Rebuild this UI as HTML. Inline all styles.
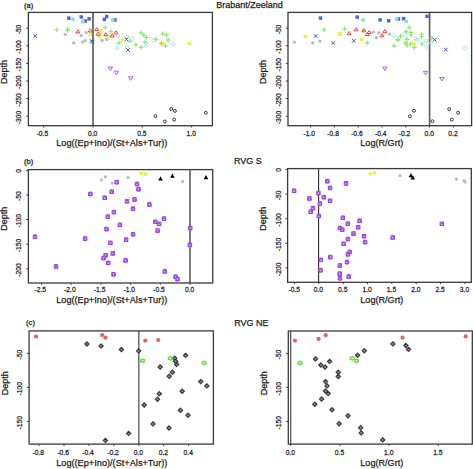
<!DOCTYPE html><html><head><meta charset="utf-8"><style>html,body{margin:0;padding:0;background:#fff;}svg{display:block;}</style></head><body>
<svg width="473" height="469" viewBox="0 0 473 469" font-family='"Liberation Sans", sans-serif'><style>text{stroke:#222;stroke-width:0.25px;}</style>
<rect width="473" height="469" fill="#fff"/>
<text x="28.60" y="7.90" font-size="7.6" text-anchor="middle" fill="#1a1a1a">(a)</text>
<text x="249.40" y="7.80" font-size="9" text-anchor="middle" fill="#1a1a1a">Brabant/Zeeland</text>
<text transform="translate(7.10,72.00) rotate(-90)" x="0" y="0" font-size="9" text-anchor="middle" fill="#1a1a1a">Depth</text>
<text x="111.80" y="145.90" font-size="9.2" text-anchor="middle" fill="#1a1a1a">Log((Ep+Ino)/(St+Als+Tur))</text>
<line x1="93.00" y1="12.40" x2="93.00" y2="125.70" stroke="#5e5e5e" stroke-width="1.7"/>
<rect x="67.05" y="16.45" width="3.5" height="3.5" fill="#5264d6"/>
<rect x="79.55" y="15.25" width="3.5" height="3.5" fill="#5264d6"/>
<rect x="83.45" y="19.25" width="3.5" height="3.5" fill="#5264d6"/>
<rect x="87.35" y="17.15" width="3.5" height="3.5" fill="#5264d6"/>
<rect x="102.65" y="17.65" width="3.5" height="3.5" fill="#5264d6"/>
<rect x="104.95" y="14.75" width="3.5" height="3.5" fill="#5264d6"/>
<rect x="113.25" y="18.15" width="3.5" height="3.5" fill="#5264d6"/>
<rect x="71.25" y="17.35" width="3.5" height="3.5" fill="#84e0d8"/>
<rect x="81.05" y="19.95" width="3.5" height="3.5" fill="#84e0d8"/>
<rect x="111.05" y="18.15" width="3.5" height="3.5" fill="#84e0d8"/>
<circle cx="65.20" cy="34.40" r="1.7" fill="#b4bcbc"/>
<circle cx="81.30" cy="35.40" r="1.7" fill="#b4bcbc"/>
<circle cx="86.10" cy="32.60" r="1.7" fill="#b4bcbc"/>
<circle cx="73.70" cy="43.00" r="1.7" fill="#b4bcbc"/>
<circle cx="82.50" cy="42.10" r="1.7" fill="#b4bcbc"/>
<circle cx="85.30" cy="40.80" r="1.7" fill="#b4bcbc"/>
<circle cx="102.00" cy="40.40" r="1.7" fill="#b4bcbc"/>
<circle cx="106.80" cy="39.20" r="1.7" fill="#b4bcbc"/>
<rect x="88.55" y="32.65" width="3.5" height="3.5" fill="#eeee50"/>
<rect x="99.35" y="29.55" width="3.5" height="3.5" fill="#eeee50"/>
<rect x="97.45" y="34.85" width="3.5" height="3.5" fill="#eeee50"/>
<rect x="106.95" y="35.15" width="3.5" height="3.5" fill="#eeee50"/>
<rect x="120.65" y="38.45" width="3.5" height="3.5" fill="#eeee50"/>
<rect x="159.85" y="41.85" width="3.5" height="3.5" fill="#eeee50"/>
<rect x="187.75" y="41.85" width="3.5" height="3.5" fill="#eeee50"/>
<path d="M54.60 29.70H59.20M56.90 27.40V32.00" stroke="#8ae86c" stroke-width="1.15" fill="none"/>
<path d="M65.30 29.00H69.90M67.60 26.70V31.30" stroke="#8ae86c" stroke-width="1.15" fill="none"/>
<path d="M65.30 30.60H69.90M67.60 28.30V32.90" stroke="#8ae86c" stroke-width="1.15" fill="none"/>
<path d="M103.00 27.50H107.60M105.30 25.20V29.80" stroke="#8ae86c" stroke-width="1.15" fill="none"/>
<path d="M108.60 31.50H113.20M110.90 29.20V33.80" stroke="#8ae86c" stroke-width="1.15" fill="none"/>
<path d="M116.60 42.80H121.20M118.90 40.50V45.10" stroke="#8ae86c" stroke-width="1.15" fill="none"/>
<path d="M127.50 41.10H132.10M129.80 38.80V43.40" stroke="#8ae86c" stroke-width="1.15" fill="none"/>
<path d="M133.60 44.90H138.20M135.90 42.60V47.20" stroke="#8ae86c" stroke-width="1.15" fill="none"/>
<path d="M138.70 47.30H143.30M141.00 45.00V49.60" stroke="#8ae86c" stroke-width="1.15" fill="none"/>
<path d="M138.60 32.70H143.20M140.90 30.40V35.00" stroke="#8ae86c" stroke-width="1.15" fill="none"/>
<path d="M141.50 35.10H146.10M143.80 32.80V37.40" stroke="#8ae86c" stroke-width="1.15" fill="none"/>
<path d="M144.30 37.50H148.90M146.60 35.20V39.80" stroke="#8ae86c" stroke-width="1.15" fill="none"/>
<path d="M142.60 41.80H147.20M144.90 39.50V44.10" stroke="#8ae86c" stroke-width="1.15" fill="none"/>
<path d="M153.60 39.40H158.20M155.90 37.10V41.70" stroke="#8ae86c" stroke-width="1.15" fill="none"/>
<path d="M160.50 33.80H165.10M162.80 31.50V36.10" stroke="#8ae86c" stroke-width="1.15" fill="none"/>
<path d="M164.30 35.10H168.90M166.60 32.80V37.40" stroke="#8ae86c" stroke-width="1.15" fill="none"/>
<path d="M165.90 40.10H170.50M168.20 37.80V42.40" stroke="#8ae86c" stroke-width="1.15" fill="none"/>
<path d="M159.30 43.60H163.90M161.60 41.30V45.90" stroke="#8ae86c" stroke-width="1.15" fill="none"/>
<path d="M163.10 45.80H167.70M165.40 43.50V48.10" stroke="#8ae86c" stroke-width="1.15" fill="none"/>
<path d="M77.90 29.80L79.90 32.95L75.90 32.95Z" stroke="#e04848" stroke-width="1.0" fill="none"/>
<path d="M90.30 28.80L92.30 31.95L88.30 31.95Z" stroke="#e04848" stroke-width="1.0" fill="none"/>
<path d="M96.70 27.50L98.70 30.65L94.70 30.65Z" stroke="#e04848" stroke-width="1.0" fill="none"/>
<path d="M98.30 32.00L100.30 35.15L96.30 35.15Z" stroke="#e04848" stroke-width="1.0" fill="none"/>
<path d="M105.80 32.60L107.80 35.75L103.80 35.75Z" stroke="#e04848" stroke-width="1.0" fill="none"/>
<path d="M112.30 33.90L114.30 37.05L110.30 37.05Z" stroke="#e04848" stroke-width="1.0" fill="none"/>
<path d="M116.00 30.80L118.00 33.95L114.00 33.95Z" stroke="#e04848" stroke-width="1.0" fill="none"/>
<path d="M118.00 33.90L120.10 36.00L118.00 38.10L115.90 36.00Z" stroke="#90e4dc" stroke-width="0.9" fill="none"/>
<path d="M127.00 34.60L129.10 36.70L127.00 38.80L124.90 36.70Z" stroke="#90e4dc" stroke-width="0.9" fill="none"/>
<path d="M132.20 36.40L134.30 38.50L132.20 40.60L130.10 38.50Z" stroke="#90e4dc" stroke-width="0.9" fill="none"/>
<path d="M117.20 45.80L119.30 47.90L117.20 50.00L115.10 47.90Z" stroke="#90e4dc" stroke-width="0.9" fill="none"/>
<path d="M127.00 44.50L129.10 46.60L127.00 48.70L124.90 46.60Z" stroke="#90e4dc" stroke-width="0.9" fill="none"/>
<path d="M146.00 41.10L148.10 43.20L146.00 45.30L143.90 43.20Z" stroke="#90e4dc" stroke-width="0.9" fill="none"/>
<path d="M146.00 43.70L148.10 45.80L146.00 47.90L143.90 45.80Z" stroke="#90e4dc" stroke-width="0.9" fill="none"/>
<path d="M153.30 38.00L155.40 40.10L153.30 42.20L151.20 40.10Z" stroke="#90e4dc" stroke-width="0.9" fill="none"/>
<path d="M172.70 42.20L174.80 44.30L172.70 46.40L170.60 44.30Z" stroke="#90e4dc" stroke-width="0.9" fill="none"/>
<path d="M33.40 34.10L37.00 37.70M33.40 37.70L37.00 34.10" stroke="#4452cc" stroke-width="1.0" fill="none"/>
<path d="M89.80 39.10L93.40 42.70M89.80 42.70L93.40 39.10" stroke="#4452cc" stroke-width="1.0" fill="none"/>
<path d="M90.60 40.10L94.20 43.70M90.60 43.70L94.20 40.10" stroke="#4452cc" stroke-width="1.0" fill="none"/>
<path d="M124.70 37.60L128.30 41.20M124.70 41.20L128.30 37.60" stroke="#4452cc" stroke-width="1.0" fill="none"/>
<path d="M126.10 48.30L129.70 51.90M126.10 51.90L129.70 48.30" stroke="#4452cc" stroke-width="1.0" fill="none"/>
<path d="M110.40 70.48L112.60 67.02L108.20 67.02Z" stroke="#b458e8" stroke-width="1.0" fill="none"/>
<path d="M116.30 74.68L118.50 71.22L114.10 71.22Z" stroke="#b458e8" stroke-width="1.0" fill="none"/>
<path d="M130.70 80.28L132.90 76.81L128.50 76.81Z" stroke="#b458e8" stroke-width="1.0" fill="none"/>
<circle cx="155.50" cy="116.20" r="1.45" stroke="#333" stroke-width="1.0" fill="none"/>
<circle cx="164.90" cy="121.50" r="1.45" stroke="#333" stroke-width="1.0" fill="none"/>
<circle cx="171.20" cy="109.00" r="1.45" stroke="#333" stroke-width="1.0" fill="none"/>
<circle cx="174.90" cy="110.90" r="1.45" stroke="#333" stroke-width="1.0" fill="none"/>
<circle cx="174.10" cy="119.60" r="1.45" stroke="#333" stroke-width="1.0" fill="none"/>
<circle cx="205.80" cy="112.80" r="1.45" stroke="#333" stroke-width="1.0" fill="none"/>
<rect x="28.40" y="12.40" width="184.00" height="113.30" fill="none" stroke="#3a3a3a" stroke-width="1.3"/>
<line x1="43.70" y1="125.70" x2="43.70" y2="127.50" stroke="#3a3a3a" stroke-width="1"/>
<text transform="translate(42.40,135.50) scale(0.87,1)" font-size="7.7" text-anchor="middle" fill="#1a1a1a">-0.5</text>
<line x1="93.00" y1="125.70" x2="93.00" y2="127.50" stroke="#3a3a3a" stroke-width="1"/>
<text transform="translate(92.60,135.50) scale(0.87,1)" font-size="7.7" text-anchor="middle" fill="#1a1a1a">0.0</text>
<line x1="142.30" y1="125.70" x2="142.30" y2="127.50" stroke="#3a3a3a" stroke-width="1"/>
<text transform="translate(141.90,135.50) scale(0.87,1)" font-size="7.7" text-anchor="middle" fill="#1a1a1a">0.5</text>
<line x1="191.60" y1="125.70" x2="191.60" y2="127.50" stroke="#3a3a3a" stroke-width="1"/>
<text transform="translate(191.20,135.50) scale(0.87,1)" font-size="7.7" text-anchor="middle" fill="#1a1a1a">1.0</text>
<line x1="26.20" y1="28.20" x2="28.40" y2="28.20" stroke="#3a3a3a" stroke-width="1"/>
<text transform="translate(21.20,29.50) rotate(-90) scale(0.87,1)" font-size="7.7" text-anchor="middle" fill="#1a1a1a">-50</text>
<line x1="26.20" y1="45.80" x2="28.40" y2="45.80" stroke="#3a3a3a" stroke-width="1"/>
<text transform="translate(21.20,47.10) rotate(-90) scale(0.87,1)" font-size="7.7" text-anchor="middle" fill="#1a1a1a">-100</text>
<line x1="26.20" y1="63.40" x2="28.40" y2="63.40" stroke="#3a3a3a" stroke-width="1"/>
<text transform="translate(21.20,64.70) rotate(-90) scale(0.87,1)" font-size="7.7" text-anchor="middle" fill="#1a1a1a">-150</text>
<line x1="26.20" y1="81.00" x2="28.40" y2="81.00" stroke="#3a3a3a" stroke-width="1"/>
<text transform="translate(21.20,82.30) rotate(-90) scale(0.87,1)" font-size="7.7" text-anchor="middle" fill="#1a1a1a">-200</text>
<line x1="26.20" y1="98.60" x2="28.40" y2="98.60" stroke="#3a3a3a" stroke-width="1"/>
<text transform="translate(21.20,99.90) rotate(-90) scale(0.87,1)" font-size="7.7" text-anchor="middle" fill="#1a1a1a">-250</text>
<line x1="26.20" y1="116.20" x2="28.40" y2="116.20" stroke="#3a3a3a" stroke-width="1"/>
<text transform="translate(21.20,117.50) rotate(-90) scale(0.87,1)" font-size="7.7" text-anchor="middle" fill="#1a1a1a">-300</text>
<text transform="translate(266.40,72.00) rotate(-90)" x="0" y="0" font-size="9" text-anchor="middle" fill="#1a1a1a">Depth</text>
<text x="381.80" y="145.90" font-size="9.1" text-anchor="middle" fill="#1a1a1a">Log(R/Grt)</text>
<line x1="429.60" y1="12.40" x2="429.60" y2="125.70" stroke="#5e5e5e" stroke-width="1.7"/>
<rect x="318.75" y="16.35" width="3.5" height="3.5" fill="#5264d6"/>
<rect x="355.45" y="15.35" width="3.5" height="3.5" fill="#5264d6"/>
<rect x="378.35" y="18.15" width="3.5" height="3.5" fill="#5264d6"/>
<rect x="386.95" y="19.05" width="3.5" height="3.5" fill="#5264d6"/>
<rect x="396.75" y="17.35" width="3.5" height="3.5" fill="#5264d6"/>
<rect x="401.85" y="16.85" width="3.5" height="3.5" fill="#5264d6"/>
<rect x="425.35" y="14.55" width="3.5" height="3.5" fill="#5264d6"/>
<rect x="361.25" y="18.15" width="3.5" height="3.5" fill="#84e0d8"/>
<rect x="394.85" y="17.35" width="3.5" height="3.5" fill="#84e0d8"/>
<rect x="404.45" y="19.75" width="3.5" height="3.5" fill="#84e0d8"/>
<circle cx="294.50" cy="42.10" r="1.7" fill="#b4bcbc"/>
<circle cx="312.80" cy="42.80" r="1.7" fill="#b4bcbc"/>
<circle cx="319.90" cy="41.10" r="1.7" fill="#b4bcbc"/>
<circle cx="373.30" cy="32.10" r="1.7" fill="#b4bcbc"/>
<circle cx="376.40" cy="37.60" r="1.7" fill="#b4bcbc"/>
<circle cx="378.80" cy="32.80" r="1.7" fill="#b4bcbc"/>
<circle cx="389.60" cy="34.10" r="1.7" fill="#b4bcbc"/>
<rect x="303.55" y="34.65" width="3.5" height="3.5" fill="#eeee50"/>
<rect x="337.55" y="32.35" width="3.5" height="3.5" fill="#eeee50"/>
<rect x="338.65" y="32.05" width="3.5" height="3.5" fill="#eeee50"/>
<rect x="360.05" y="38.05" width="3.5" height="3.5" fill="#eeee50"/>
<rect x="362.05" y="28.75" width="3.5" height="3.5" fill="#eeee50"/>
<rect x="404.35" y="41.25" width="3.5" height="3.5" fill="#eeee50"/>
<rect x="412.15" y="41.85" width="3.5" height="3.5" fill="#eeee50"/>
<path d="M321.90 29.80H326.50M324.20 27.50V32.10" stroke="#8ae86c" stroke-width="1.15" fill="none"/>
<path d="M342.30 28.70H346.90M344.60 26.40V31.00" stroke="#8ae86c" stroke-width="1.15" fill="none"/>
<path d="M364.90 42.80H369.50M367.20 40.50V45.10" stroke="#8ae86c" stroke-width="1.15" fill="none"/>
<path d="M391.80 45.80H396.40M394.10 43.50V48.10" stroke="#8ae86c" stroke-width="1.15" fill="none"/>
<path d="M395.60 39.80H400.20M397.90 37.50V42.10" stroke="#8ae86c" stroke-width="1.15" fill="none"/>
<path d="M398.20 36.20H402.80M400.50 33.90V38.50" stroke="#8ae86c" stroke-width="1.15" fill="none"/>
<path d="M406.90 27.40H411.50M409.20 25.10V29.70" stroke="#8ae86c" stroke-width="1.15" fill="none"/>
<path d="M403.90 31.60H408.50M406.20 29.30V33.90" stroke="#8ae86c" stroke-width="1.15" fill="none"/>
<path d="M408.60 32.50H413.20M410.90 30.20V34.80" stroke="#8ae86c" stroke-width="1.15" fill="none"/>
<path d="M408.90 35.00H413.50M411.20 32.70V37.30" stroke="#8ae86c" stroke-width="1.15" fill="none"/>
<path d="M395.40 39.70H400.00M397.70 37.40V42.00" stroke="#8ae86c" stroke-width="1.15" fill="none"/>
<path d="M404.80 39.30H409.40M407.10 37.00V41.60" stroke="#8ae86c" stroke-width="1.15" fill="none"/>
<path d="M403.10 43.10H407.70M405.40 40.80V45.40" stroke="#8ae86c" stroke-width="1.15" fill="none"/>
<path d="M408.20 44.00H412.80M410.50 41.70V46.30" stroke="#8ae86c" stroke-width="1.15" fill="none"/>
<path d="M412.00 47.40H416.60M414.30 45.10V49.70" stroke="#8ae86c" stroke-width="1.15" fill="none"/>
<path d="M404.80 45.70H409.40M407.10 43.40V48.00" stroke="#8ae86c" stroke-width="1.15" fill="none"/>
<path d="M419.30 34.20H423.90M421.60 31.90V36.50" stroke="#8ae86c" stroke-width="1.15" fill="none"/>
<path d="M419.30 36.70H423.90M421.60 34.40V39.00" stroke="#8ae86c" stroke-width="1.15" fill="none"/>
<path d="M419.70 44.00H424.30M422.00 41.70V46.30" stroke="#8ae86c" stroke-width="1.15" fill="none"/>
<path d="M429.50 38.00H434.10M431.80 35.70V40.30" stroke="#8ae86c" stroke-width="1.15" fill="none"/>
<path d="M349.10 31.50L351.10 34.65L347.10 34.65Z" stroke="#e04848" stroke-width="1.0" fill="none"/>
<path d="M356.10 27.70L358.10 30.85L354.10 30.85Z" stroke="#e04848" stroke-width="1.0" fill="none"/>
<path d="M363.80 28.70L365.80 31.85L361.80 31.85Z" stroke="#e04848" stroke-width="1.0" fill="none"/>
<path d="M367.40 32.40L369.40 35.55L365.40 35.55Z" stroke="#e04848" stroke-width="1.0" fill="none"/>
<path d="M369.20 30.40L371.20 33.55L367.20 33.55Z" stroke="#e04848" stroke-width="1.0" fill="none"/>
<path d="M382.00 33.60L384.00 36.75L380.00 36.75Z" stroke="#e04848" stroke-width="1.0" fill="none"/>
<path d="M384.90 29.50L386.90 32.65L382.90 32.65Z" stroke="#e04848" stroke-width="1.0" fill="none"/>
<path d="M393.80 33.50L395.90 35.60L393.80 37.70L391.70 35.60Z" stroke="#90e4dc" stroke-width="0.9" fill="none"/>
<path d="M404.50 32.50L406.60 34.60L404.50 36.70L402.40 34.60Z" stroke="#90e4dc" stroke-width="0.9" fill="none"/>
<path d="M415.60 36.40L417.70 38.50L415.60 40.60L413.50 38.50Z" stroke="#90e4dc" stroke-width="0.9" fill="none"/>
<path d="M417.30 37.60L419.40 39.70L417.30 41.80L415.20 39.70Z" stroke="#90e4dc" stroke-width="0.9" fill="none"/>
<path d="M425.90 38.90L428.00 41.00L425.90 43.10L423.80 41.00Z" stroke="#90e4dc" stroke-width="0.9" fill="none"/>
<path d="M426.30 44.50L428.40 46.60L426.30 48.70L424.20 46.60Z" stroke="#90e4dc" stroke-width="0.9" fill="none"/>
<path d="M431.00 41.20L433.10 43.30L431.00 45.40L428.90 43.30Z" stroke="#90e4dc" stroke-width="0.9" fill="none"/>
<path d="M465.10 46.20L467.20 48.30L465.10 50.40L463.00 48.30Z" stroke="#90e4dc" stroke-width="0.9" fill="none"/>
<path d="M313.80 34.20L317.40 37.80M313.80 37.80L317.40 34.20" stroke="#4452cc" stroke-width="1.0" fill="none"/>
<path d="M331.50 41.10L335.10 44.70M331.50 44.70L335.10 41.10" stroke="#4452cc" stroke-width="1.0" fill="none"/>
<path d="M352.00 39.00L355.60 42.60M352.00 42.60L355.60 39.00" stroke="#4452cc" stroke-width="1.0" fill="none"/>
<path d="M432.90 37.90L436.50 41.50M432.90 41.50L436.50 37.90" stroke="#4452cc" stroke-width="1.0" fill="none"/>
<path d="M444.00 47.80L447.60 51.40M444.00 51.40L447.60 47.80" stroke="#4452cc" stroke-width="1.0" fill="none"/>
<path d="M384.90 70.48L387.10 67.02L382.70 67.02Z" stroke="#b458e8" stroke-width="1.0" fill="none"/>
<path d="M425.60 74.78L427.80 71.31L423.40 71.31Z" stroke="#b458e8" stroke-width="1.0" fill="none"/>
<path d="M441.90 80.88L444.10 77.42L439.70 77.42Z" stroke="#b458e8" stroke-width="1.0" fill="none"/>
<circle cx="409.90" cy="116.30" r="1.45" stroke="#333" stroke-width="1.0" fill="none"/>
<circle cx="414.00" cy="110.80" r="1.45" stroke="#333" stroke-width="1.0" fill="none"/>
<circle cx="432.50" cy="121.20" r="1.45" stroke="#333" stroke-width="1.0" fill="none"/>
<circle cx="449.20" cy="109.20" r="1.45" stroke="#333" stroke-width="1.0" fill="none"/>
<circle cx="451.80" cy="119.60" r="1.45" stroke="#333" stroke-width="1.0" fill="none"/>
<circle cx="458.10" cy="112.70" r="1.45" stroke="#333" stroke-width="1.0" fill="none"/>
<rect x="288.00" y="12.40" width="183.60" height="113.30" fill="none" stroke="#3a3a3a" stroke-width="1.3"/>
<line x1="310.60" y1="125.70" x2="310.60" y2="127.50" stroke="#3a3a3a" stroke-width="1"/>
<text transform="translate(309.30,135.50) scale(0.87,1)" font-size="7.7" text-anchor="middle" fill="#1a1a1a">-1.0</text>
<line x1="334.40" y1="125.70" x2="334.40" y2="127.50" stroke="#3a3a3a" stroke-width="1"/>
<text transform="translate(333.10,135.50) scale(0.87,1)" font-size="7.7" text-anchor="middle" fill="#1a1a1a">-0.8</text>
<line x1="358.20" y1="125.70" x2="358.20" y2="127.50" stroke="#3a3a3a" stroke-width="1"/>
<text transform="translate(356.90,135.50) scale(0.87,1)" font-size="7.7" text-anchor="middle" fill="#1a1a1a">-0.6</text>
<line x1="382.00" y1="125.70" x2="382.00" y2="127.50" stroke="#3a3a3a" stroke-width="1"/>
<text transform="translate(380.70,135.50) scale(0.87,1)" font-size="7.7" text-anchor="middle" fill="#1a1a1a">-0.4</text>
<line x1="405.80" y1="125.70" x2="405.80" y2="127.50" stroke="#3a3a3a" stroke-width="1"/>
<text transform="translate(404.50,135.50) scale(0.87,1)" font-size="7.7" text-anchor="middle" fill="#1a1a1a">-0.2</text>
<line x1="429.60" y1="125.70" x2="429.60" y2="127.50" stroke="#3a3a3a" stroke-width="1"/>
<text transform="translate(429.20,135.50) scale(0.87,1)" font-size="7.7" text-anchor="middle" fill="#1a1a1a">0.0</text>
<line x1="453.40" y1="125.70" x2="453.40" y2="127.50" stroke="#3a3a3a" stroke-width="1"/>
<text transform="translate(453.00,135.50) scale(0.87,1)" font-size="7.7" text-anchor="middle" fill="#1a1a1a">0.2</text>
<line x1="285.80" y1="28.20" x2="288.00" y2="28.20" stroke="#3a3a3a" stroke-width="1"/>
<text transform="translate(280.80,29.50) rotate(-90) scale(0.87,1)" font-size="7.7" text-anchor="middle" fill="#1a1a1a">-50</text>
<line x1="285.80" y1="45.80" x2="288.00" y2="45.80" stroke="#3a3a3a" stroke-width="1"/>
<text transform="translate(280.80,47.10) rotate(-90) scale(0.87,1)" font-size="7.7" text-anchor="middle" fill="#1a1a1a">-100</text>
<line x1="285.80" y1="63.40" x2="288.00" y2="63.40" stroke="#3a3a3a" stroke-width="1"/>
<text transform="translate(280.80,64.70) rotate(-90) scale(0.87,1)" font-size="7.7" text-anchor="middle" fill="#1a1a1a">-150</text>
<line x1="285.80" y1="81.00" x2="288.00" y2="81.00" stroke="#3a3a3a" stroke-width="1"/>
<text transform="translate(280.80,82.30) rotate(-90) scale(0.87,1)" font-size="7.7" text-anchor="middle" fill="#1a1a1a">-200</text>
<line x1="285.80" y1="98.60" x2="288.00" y2="98.60" stroke="#3a3a3a" stroke-width="1"/>
<text transform="translate(280.80,99.90) rotate(-90) scale(0.87,1)" font-size="7.7" text-anchor="middle" fill="#1a1a1a">-250</text>
<line x1="285.80" y1="116.20" x2="288.00" y2="116.20" stroke="#3a3a3a" stroke-width="1"/>
<text transform="translate(280.80,117.50) rotate(-90) scale(0.87,1)" font-size="7.7" text-anchor="middle" fill="#1a1a1a">-300</text>
<text x="28.70" y="163.70" font-size="7.6" text-anchor="middle" fill="#1a1a1a">(b)</text>
<text x="247.80" y="164.40" font-size="9" text-anchor="middle" fill="#1a1a1a">RVG S</text>
<text transform="translate(7.10,218.70) rotate(-90)" x="0" y="0" font-size="9" text-anchor="middle" fill="#1a1a1a">Depth</text>
<text x="111.80" y="302.80" font-size="9.2" text-anchor="middle" fill="#1a1a1a">Log((Ep+Ino)/(St+Als+Tur))</text>
<line x1="190.00" y1="169.60" x2="190.00" y2="283.00" stroke="#5e5e5e" stroke-width="1.6"/>
<circle cx="101.30" cy="179.80" r="1.6" fill="#b4bcbc"/>
<circle cx="105.40" cy="176.80" r="1.6" fill="#b4bcbc"/>
<circle cx="112.30" cy="183.10" r="1.6" fill="#b4bcbc"/>
<circle cx="128.10" cy="177.70" r="1.6" fill="#b4bcbc"/>
<circle cx="182.70" cy="181.70" r="1.6" fill="#b4bcbc"/>
<rect x="139.65" y="171.85" width="3.5" height="3.5" fill="#eeee50"/>
<rect x="144.05" y="172.35" width="3.5" height="3.5" fill="#eeee50"/>
<path d="M160.50 176.30L162.80 180.44L158.20 180.44Z" fill="#000"/>
<path d="M172.40 173.60L174.70 177.74L170.10 177.74Z" fill="#000"/>
<path d="M206.00 175.10L208.30 179.24L203.70 179.24Z" fill="#000"/>
<path d="M88.65 192.15h3.5v3.5h-3.5ZM90.40 192.15L92.15 195.65L88.65 195.65Z" stroke="#9a40e0" stroke-width="1.0" fill="#e6ccf8" stroke-linejoin="miter"/>
<path d="M102.95 195.95h3.5v3.5h-3.5ZM104.70 195.95L106.45 199.45L102.95 199.45Z" stroke="#9a40e0" stroke-width="1.0" fill="#e6ccf8" stroke-linejoin="miter"/>
<path d="M109.95 189.85h3.5v3.5h-3.5ZM111.70 189.85L113.45 193.35L109.95 193.35Z" stroke="#9a40e0" stroke-width="1.0" fill="#e6ccf8" stroke-linejoin="miter"/>
<path d="M112.15 210.25h3.5v3.5h-3.5ZM113.90 210.25L115.65 213.75L112.15 213.75Z" stroke="#9a40e0" stroke-width="1.0" fill="#e6ccf8" stroke-linejoin="miter"/>
<path d="M106.05 214.85h3.5v3.5h-3.5ZM107.80 214.85L109.55 218.35L106.05 218.35Z" stroke="#9a40e0" stroke-width="1.0" fill="#e6ccf8" stroke-linejoin="miter"/>
<path d="M114.95 180.35h3.5v3.5h-3.5ZM116.70 180.35L118.45 183.85L114.95 183.85Z" stroke="#9a40e0" stroke-width="1.0" fill="#e6ccf8" stroke-linejoin="miter"/>
<path d="M135.25 182.25h3.5v3.5h-3.5ZM137.00 182.25L138.75 185.75L135.25 185.75Z" stroke="#9a40e0" stroke-width="1.0" fill="#e6ccf8" stroke-linejoin="miter"/>
<path d="M136.75 187.45h3.5v3.5h-3.5ZM138.50 187.45L140.25 190.95L136.75 190.95Z" stroke="#9a40e0" stroke-width="1.0" fill="#e6ccf8" stroke-linejoin="miter"/>
<path d="M125.25 199.45h3.5v3.5h-3.5ZM127.00 199.45L128.75 202.95L125.25 202.95Z" stroke="#9a40e0" stroke-width="1.0" fill="#e6ccf8" stroke-linejoin="miter"/>
<path d="M132.75 197.65h3.5v3.5h-3.5ZM134.50 197.65L136.25 201.15L132.75 201.15Z" stroke="#9a40e0" stroke-width="1.0" fill="#e6ccf8" stroke-linejoin="miter"/>
<path d="M147.65 202.65h3.5v3.5h-3.5ZM149.40 202.65L151.15 206.15L147.65 206.15Z" stroke="#9a40e0" stroke-width="1.0" fill="#e6ccf8" stroke-linejoin="miter"/>
<path d="M131.25 206.85h3.5v3.5h-3.5ZM133.00 206.85L134.75 210.35L131.25 210.35Z" stroke="#9a40e0" stroke-width="1.0" fill="#e6ccf8" stroke-linejoin="miter"/>
<path d="M153.55 219.95h3.5v3.5h-3.5ZM155.30 219.95L157.05 223.45L153.55 223.45Z" stroke="#9a40e0" stroke-width="1.0" fill="#e6ccf8" stroke-linejoin="miter"/>
<path d="M162.25 216.85h3.5v3.5h-3.5ZM164.00 216.85L165.75 220.35L162.25 220.35Z" stroke="#9a40e0" stroke-width="1.0" fill="#e6ccf8" stroke-linejoin="miter"/>
<path d="M157.35 222.05h3.5v3.5h-3.5ZM159.10 222.05L160.85 225.55L157.35 225.55Z" stroke="#9a40e0" stroke-width="1.0" fill="#e6ccf8" stroke-linejoin="miter"/>
<path d="M118.15 223.05h3.5v3.5h-3.5ZM119.90 223.05L121.65 226.55L118.15 226.55Z" stroke="#9a40e0" stroke-width="1.0" fill="#e6ccf8" stroke-linejoin="miter"/>
<path d="M33.25 234.95h3.5v3.5h-3.5ZM35.00 234.95L36.75 238.45L33.25 238.45Z" stroke="#9a40e0" stroke-width="1.0" fill="#e6ccf8" stroke-linejoin="miter"/>
<path d="M83.35 236.75h3.5v3.5h-3.5ZM85.10 236.75L86.85 240.25L83.35 240.25Z" stroke="#9a40e0" stroke-width="1.0" fill="#e6ccf8" stroke-linejoin="miter"/>
<path d="M104.75 227.25h3.5v3.5h-3.5ZM106.50 227.25L108.25 230.75L104.75 230.75Z" stroke="#9a40e0" stroke-width="1.0" fill="#e6ccf8" stroke-linejoin="miter"/>
<path d="M108.65 241.05h3.5v3.5h-3.5ZM110.40 241.05L112.15 244.55L108.65 244.55Z" stroke="#9a40e0" stroke-width="1.0" fill="#e6ccf8" stroke-linejoin="miter"/>
<path d="M111.05 251.55h3.5v3.5h-3.5ZM112.80 251.55L114.55 255.05L111.05 255.05Z" stroke="#9a40e0" stroke-width="1.0" fill="#e6ccf8" stroke-linejoin="miter"/>
<path d="M103.85 253.45h3.5v3.5h-3.5ZM105.60 253.45L107.35 256.95L103.85 256.95Z" stroke="#9a40e0" stroke-width="1.0" fill="#e6ccf8" stroke-linejoin="miter"/>
<path d="M101.75 256.25h3.5v3.5h-3.5ZM103.50 256.25L105.25 259.75L101.75 259.75Z" stroke="#9a40e0" stroke-width="1.0" fill="#e6ccf8" stroke-linejoin="miter"/>
<path d="M106.55 261.05h3.5v3.5h-3.5ZM108.30 261.05L110.05 264.55L106.55 264.55Z" stroke="#9a40e0" stroke-width="1.0" fill="#e6ccf8" stroke-linejoin="miter"/>
<path d="M54.25 264.65h3.5v3.5h-3.5ZM56.00 264.65L57.75 268.15L54.25 268.15Z" stroke="#9a40e0" stroke-width="1.0" fill="#e6ccf8" stroke-linejoin="miter"/>
<path d="M111.75 272.45h3.5v3.5h-3.5ZM113.50 272.45L115.25 275.95L111.75 275.95Z" stroke="#9a40e0" stroke-width="1.0" fill="#e6ccf8" stroke-linejoin="miter"/>
<path d="M155.85 228.75h3.5v3.5h-3.5ZM157.60 228.75L159.35 232.25L155.85 232.25Z" stroke="#9a40e0" stroke-width="1.0" fill="#e6ccf8" stroke-linejoin="miter"/>
<path d="M131.35 232.45h3.5v3.5h-3.5ZM133.10 232.45L134.85 235.95L131.35 235.95Z" stroke="#9a40e0" stroke-width="1.0" fill="#e6ccf8" stroke-linejoin="miter"/>
<path d="M124.35 237.85h3.5v3.5h-3.5ZM126.10 237.85L127.85 241.35L124.35 241.35Z" stroke="#9a40e0" stroke-width="1.0" fill="#e6ccf8" stroke-linejoin="miter"/>
<path d="M188.55 226.25h3.5v3.5h-3.5ZM190.30 226.25L192.05 229.75L188.55 229.75Z" stroke="#9a40e0" stroke-width="1.0" fill="#e6ccf8" stroke-linejoin="miter"/>
<path d="M188.15 242.95h3.5v3.5h-3.5ZM189.90 242.95L191.65 246.45L188.15 246.45Z" stroke="#9a40e0" stroke-width="1.0" fill="#e6ccf8" stroke-linejoin="miter"/>
<path d="M123.85 258.55h3.5v3.5h-3.5ZM125.60 258.55L127.35 262.05L123.85 262.05Z" stroke="#9a40e0" stroke-width="1.0" fill="#e6ccf8" stroke-linejoin="miter"/>
<path d="M163.05 269.65h3.5v3.5h-3.5ZM164.80 269.65L166.55 273.15L163.05 273.15Z" stroke="#9a40e0" stroke-width="1.0" fill="#e6ccf8" stroke-linejoin="miter"/>
<path d="M173.85 274.95h3.5v3.5h-3.5ZM175.60 274.95L177.35 278.45L173.85 278.45Z" stroke="#9a40e0" stroke-width="1.0" fill="#e6ccf8" stroke-linejoin="miter"/>
<path d="M175.75 277.25h3.5v3.5h-3.5ZM177.50 277.25L179.25 280.75L175.75 280.75Z" stroke="#9a40e0" stroke-width="1.0" fill="#e6ccf8" stroke-linejoin="miter"/>
<rect x="28.40" y="169.60" width="184.30" height="113.40" fill="none" stroke="#3a3a3a" stroke-width="1.3"/>
<line x1="41.50" y1="283.00" x2="41.50" y2="284.80" stroke="#3a3a3a" stroke-width="1"/>
<text transform="translate(40.20,292.30) scale(0.87,1)" font-size="7.7" text-anchor="middle" fill="#1a1a1a">-2.5</text>
<line x1="71.20" y1="283.00" x2="71.20" y2="284.80" stroke="#3a3a3a" stroke-width="1"/>
<text transform="translate(69.90,292.30) scale(0.87,1)" font-size="7.7" text-anchor="middle" fill="#1a1a1a">-2.0</text>
<line x1="100.90" y1="283.00" x2="100.90" y2="284.80" stroke="#3a3a3a" stroke-width="1"/>
<text transform="translate(99.60,292.30) scale(0.87,1)" font-size="7.7" text-anchor="middle" fill="#1a1a1a">-1.5</text>
<line x1="130.60" y1="283.00" x2="130.60" y2="284.80" stroke="#3a3a3a" stroke-width="1"/>
<text transform="translate(129.30,292.30) scale(0.87,1)" font-size="7.7" text-anchor="middle" fill="#1a1a1a">-1.0</text>
<line x1="160.30" y1="283.00" x2="160.30" y2="284.80" stroke="#3a3a3a" stroke-width="1"/>
<text transform="translate(159.00,292.30) scale(0.87,1)" font-size="7.7" text-anchor="middle" fill="#1a1a1a">-0.5</text>
<line x1="190.00" y1="283.00" x2="190.00" y2="284.80" stroke="#3a3a3a" stroke-width="1"/>
<text transform="translate(189.60,292.30) scale(0.87,1)" font-size="7.7" text-anchor="middle" fill="#1a1a1a">0.0</text>
<line x1="26.20" y1="170.30" x2="28.40" y2="170.30" stroke="#3a3a3a" stroke-width="1"/>
<text transform="translate(21.20,170.80) rotate(-90) scale(0.87,1)" font-size="7.7" text-anchor="middle" fill="#1a1a1a">0</text>
<line x1="26.20" y1="194.93" x2="28.40" y2="194.93" stroke="#3a3a3a" stroke-width="1"/>
<text transform="translate(21.20,196.23) rotate(-90) scale(0.87,1)" font-size="7.7" text-anchor="middle" fill="#1a1a1a">-50</text>
<line x1="26.20" y1="219.55" x2="28.40" y2="219.55" stroke="#3a3a3a" stroke-width="1"/>
<text transform="translate(21.20,220.85) rotate(-90) scale(0.87,1)" font-size="7.7" text-anchor="middle" fill="#1a1a1a">-100</text>
<line x1="26.20" y1="244.18" x2="28.40" y2="244.18" stroke="#3a3a3a" stroke-width="1"/>
<text transform="translate(21.20,245.48) rotate(-90) scale(0.87,1)" font-size="7.7" text-anchor="middle" fill="#1a1a1a">-150</text>
<line x1="26.20" y1="268.80" x2="28.40" y2="268.80" stroke="#3a3a3a" stroke-width="1"/>
<text transform="translate(21.20,270.10) rotate(-90) scale(0.87,1)" font-size="7.7" text-anchor="middle" fill="#1a1a1a">-200</text>
<text transform="translate(266.40,218.70) rotate(-90)" x="0" y="0" font-size="9" text-anchor="middle" fill="#1a1a1a">Depth</text>
<text x="381.80" y="302.80" font-size="9.1" text-anchor="middle" fill="#1a1a1a">Log(R/Grt)</text>
<line x1="318.60" y1="168.60" x2="318.60" y2="282.30" stroke="#2a2a2a" stroke-width="1.1"/>
<circle cx="400.00" cy="175.70" r="1.6" fill="#b4bcbc"/>
<circle cx="456.50" cy="179.20" r="1.6" fill="#b4bcbc"/>
<circle cx="464.00" cy="180.70" r="1.6" fill="#b4bcbc"/>
<circle cx="465.10" cy="182.00" r="1.6" fill="#b4bcbc"/>
<rect x="368.55" y="171.85" width="3.5" height="3.5" fill="#eeee50"/>
<rect x="372.75" y="171.15" width="3.5" height="3.5" fill="#eeee50"/>
<path d="M410.90 173.00L413.20 177.14L408.60 177.14Z" fill="#000"/>
<path d="M412.80 175.30L415.10 179.44L410.50 179.44Z" fill="#000"/>
<path d="M292.35 188.95h3.5v3.5h-3.5ZM294.10 188.95L295.85 192.45L292.35 192.45Z" stroke="#9a40e0" stroke-width="1.0" fill="#e6ccf8" stroke-linejoin="miter"/>
<path d="M307.65 196.65h3.5v3.5h-3.5ZM309.40 196.65L311.15 200.15L307.65 200.15Z" stroke="#9a40e0" stroke-width="1.0" fill="#e6ccf8" stroke-linejoin="miter"/>
<path d="M311.25 206.25h3.5v3.5h-3.5ZM313.00 206.25L314.75 209.75L311.25 209.75Z" stroke="#9a40e0" stroke-width="1.0" fill="#e6ccf8" stroke-linejoin="miter"/>
<path d="M308.95 209.95h3.5v3.5h-3.5ZM310.70 209.95L312.45 213.45L308.95 213.45Z" stroke="#9a40e0" stroke-width="1.0" fill="#e6ccf8" stroke-linejoin="miter"/>
<path d="M316.65 191.25h3.5v3.5h-3.5ZM318.40 191.25L320.15 194.75L316.65 194.75Z" stroke="#9a40e0" stroke-width="1.0" fill="#e6ccf8" stroke-linejoin="miter"/>
<path d="M318.15 201.75h3.5v3.5h-3.5ZM319.90 201.75L321.65 205.25L318.15 205.25Z" stroke="#9a40e0" stroke-width="1.0" fill="#e6ccf8" stroke-linejoin="miter"/>
<path d="M317.05 214.05h3.5v3.5h-3.5ZM318.80 214.05L320.55 217.55L317.05 217.55Z" stroke="#9a40e0" stroke-width="1.0" fill="#e6ccf8" stroke-linejoin="miter"/>
<path d="M322.05 195.35h3.5v3.5h-3.5ZM323.80 195.35L325.55 198.85L322.05 198.85Z" stroke="#9a40e0" stroke-width="1.0" fill="#e6ccf8" stroke-linejoin="miter"/>
<path d="M325.55 179.35h3.5v3.5h-3.5ZM327.30 179.35L329.05 182.85L325.55 182.85Z" stroke="#9a40e0" stroke-width="1.0" fill="#e6ccf8" stroke-linejoin="miter"/>
<path d="M328.35 186.15h3.5v3.5h-3.5ZM330.10 186.15L331.85 189.65L328.35 189.65Z" stroke="#9a40e0" stroke-width="1.0" fill="#e6ccf8" stroke-linejoin="miter"/>
<path d="M328.35 198.95h3.5v3.5h-3.5ZM330.10 198.95L331.85 202.45L328.35 202.45Z" stroke="#9a40e0" stroke-width="1.0" fill="#e6ccf8" stroke-linejoin="miter"/>
<path d="M344.25 181.55h3.5v3.5h-3.5ZM346.00 181.55L347.75 185.05L344.25 185.05Z" stroke="#9a40e0" stroke-width="1.0" fill="#e6ccf8" stroke-linejoin="miter"/>
<path d="M341.05 215.95h3.5v3.5h-3.5ZM342.80 215.95L344.55 219.45L341.05 219.45Z" stroke="#9a40e0" stroke-width="1.0" fill="#e6ccf8" stroke-linejoin="miter"/>
<path d="M346.05 221.85h3.5v3.5h-3.5ZM347.80 221.85L349.55 225.35L346.05 225.35Z" stroke="#9a40e0" stroke-width="1.0" fill="#e6ccf8" stroke-linejoin="miter"/>
<path d="M357.85 218.95h3.5v3.5h-3.5ZM359.60 218.95L361.35 222.45L357.85 222.45Z" stroke="#9a40e0" stroke-width="1.0" fill="#e6ccf8" stroke-linejoin="miter"/>
<path d="M338.15 226.15h3.5v3.5h-3.5ZM339.90 226.15L341.65 229.65L338.15 229.65Z" stroke="#9a40e0" stroke-width="1.0" fill="#e6ccf8" stroke-linejoin="miter"/>
<path d="M340.55 227.85h3.5v3.5h-3.5ZM342.30 227.85L344.05 231.35L340.55 231.35Z" stroke="#9a40e0" stroke-width="1.0" fill="#e6ccf8" stroke-linejoin="miter"/>
<path d="M356.45 225.35h3.5v3.5h-3.5ZM358.20 225.35L359.95 228.85L356.45 228.85Z" stroke="#9a40e0" stroke-width="1.0" fill="#e6ccf8" stroke-linejoin="miter"/>
<path d="M351.75 231.75h3.5v3.5h-3.5ZM353.50 231.75L355.25 235.25L351.75 235.25Z" stroke="#9a40e0" stroke-width="1.0" fill="#e6ccf8" stroke-linejoin="miter"/>
<path d="M362.25 234.35h3.5v3.5h-3.5ZM364.00 234.35L365.75 237.85L362.25 237.85Z" stroke="#9a40e0" stroke-width="1.0" fill="#e6ccf8" stroke-linejoin="miter"/>
<path d="M346.15 237.25h3.5v3.5h-3.5ZM347.90 237.25L349.65 240.75L346.15 240.75Z" stroke="#9a40e0" stroke-width="1.0" fill="#e6ccf8" stroke-linejoin="miter"/>
<path d="M363.35 240.25h3.5v3.5h-3.5ZM365.10 240.25L366.85 243.75L363.35 243.75Z" stroke="#9a40e0" stroke-width="1.0" fill="#e6ccf8" stroke-linejoin="miter"/>
<path d="M341.85 241.95h3.5v3.5h-3.5ZM343.60 241.95L345.35 245.45L341.85 245.45Z" stroke="#9a40e0" stroke-width="1.0" fill="#e6ccf8" stroke-linejoin="miter"/>
<path d="M328.55 255.25h3.5v3.5h-3.5ZM330.30 255.25L332.05 258.75L328.55 258.75Z" stroke="#9a40e0" stroke-width="1.0" fill="#e6ccf8" stroke-linejoin="miter"/>
<path d="M347.85 250.05h3.5v3.5h-3.5ZM349.60 250.05L351.35 253.55L347.85 253.55Z" stroke="#9a40e0" stroke-width="1.0" fill="#e6ccf8" stroke-linejoin="miter"/>
<path d="M346.15 252.55h3.5v3.5h-3.5ZM347.90 252.55L349.65 256.05L346.15 256.05Z" stroke="#9a40e0" stroke-width="1.0" fill="#e6ccf8" stroke-linejoin="miter"/>
<path d="M345.25 260.25h3.5v3.5h-3.5ZM347.00 260.25L348.75 263.75L345.25 263.75Z" stroke="#9a40e0" stroke-width="1.0" fill="#e6ccf8" stroke-linejoin="miter"/>
<path d="M338.05 263.65h3.5v3.5h-3.5ZM339.80 263.65L341.55 267.15L338.05 267.15Z" stroke="#9a40e0" stroke-width="1.0" fill="#e6ccf8" stroke-linejoin="miter"/>
<path d="M337.95 271.85h3.5v3.5h-3.5ZM339.70 271.85L341.45 275.35L337.95 275.35Z" stroke="#9a40e0" stroke-width="1.0" fill="#e6ccf8" stroke-linejoin="miter"/>
<path d="M338.15 276.45h3.5v3.5h-3.5ZM339.90 276.45L341.65 279.95L338.15 279.95Z" stroke="#9a40e0" stroke-width="1.0" fill="#e6ccf8" stroke-linejoin="miter"/>
<path d="M346.95 274.75h3.5v3.5h-3.5ZM348.70 274.75L350.45 278.25L346.95 278.25Z" stroke="#9a40e0" stroke-width="1.0" fill="#e6ccf8" stroke-linejoin="miter"/>
<path d="M319.15 258.05h3.5v3.5h-3.5ZM320.90 258.05L322.65 261.55L319.15 261.55Z" stroke="#9a40e0" stroke-width="1.0" fill="#e6ccf8" stroke-linejoin="miter"/>
<path d="M318.85 268.45h3.5v3.5h-3.5ZM320.60 268.45L322.35 271.95L318.85 271.95Z" stroke="#9a40e0" stroke-width="1.0" fill="#e6ccf8" stroke-linejoin="miter"/>
<path d="M440.15 222.05h3.5v3.5h-3.5ZM441.90 222.05L443.65 225.55L440.15 225.55Z" stroke="#9a40e0" stroke-width="1.0" fill="#e6ccf8" stroke-linejoin="miter"/>
<path d="M390.95 235.65h3.5v3.5h-3.5ZM392.70 235.65L394.45 239.15L390.95 239.15Z" stroke="#9a40e0" stroke-width="1.0" fill="#e6ccf8" stroke-linejoin="miter"/>
<rect x="287.60" y="168.60" width="183.70" height="113.70" fill="none" stroke="#3a3a3a" stroke-width="1.3"/>
<line x1="294.45" y1="282.30" x2="294.45" y2="284.10" stroke="#3a3a3a" stroke-width="1"/>
<text transform="translate(294.25,291.60) scale(0.87,1)" font-size="7.7" text-anchor="middle" fill="#1a1a1a">-0.5</text>
<line x1="318.80" y1="282.30" x2="318.80" y2="284.10" stroke="#3a3a3a" stroke-width="1"/>
<text transform="translate(318.40,291.60) scale(0.87,1)" font-size="7.7" text-anchor="middle" fill="#1a1a1a">0.0</text>
<line x1="343.15" y1="282.30" x2="343.15" y2="284.10" stroke="#3a3a3a" stroke-width="1"/>
<text transform="translate(342.75,291.60) scale(0.87,1)" font-size="7.7" text-anchor="middle" fill="#1a1a1a">0.5</text>
<line x1="367.50" y1="282.30" x2="367.50" y2="284.10" stroke="#3a3a3a" stroke-width="1"/>
<text transform="translate(367.10,291.60) scale(0.87,1)" font-size="7.7" text-anchor="middle" fill="#1a1a1a">1.0</text>
<line x1="391.85" y1="282.30" x2="391.85" y2="284.10" stroke="#3a3a3a" stroke-width="1"/>
<text transform="translate(391.45,291.60) scale(0.87,1)" font-size="7.7" text-anchor="middle" fill="#1a1a1a">1.5</text>
<line x1="416.20" y1="282.30" x2="416.20" y2="284.10" stroke="#3a3a3a" stroke-width="1"/>
<text transform="translate(415.80,291.60) scale(0.87,1)" font-size="7.7" text-anchor="middle" fill="#1a1a1a">2.0</text>
<line x1="440.55" y1="282.30" x2="440.55" y2="284.10" stroke="#3a3a3a" stroke-width="1"/>
<text transform="translate(440.15,291.60) scale(0.87,1)" font-size="7.7" text-anchor="middle" fill="#1a1a1a">2.5</text>
<line x1="464.90" y1="282.30" x2="464.90" y2="284.10" stroke="#3a3a3a" stroke-width="1"/>
<text transform="translate(464.50,291.60) scale(0.87,1)" font-size="7.7" text-anchor="middle" fill="#1a1a1a">3.0</text>
<line x1="285.40" y1="169.40" x2="287.60" y2="169.40" stroke="#3a3a3a" stroke-width="1"/>
<text transform="translate(280.60,169.90) rotate(-90) scale(0.87,1)" font-size="7.7" text-anchor="middle" fill="#1a1a1a">0</text>
<line x1="285.40" y1="194.03" x2="287.60" y2="194.03" stroke="#3a3a3a" stroke-width="1"/>
<text transform="translate(280.60,195.33) rotate(-90) scale(0.87,1)" font-size="7.7" text-anchor="middle" fill="#1a1a1a">-50</text>
<line x1="285.40" y1="218.65" x2="287.60" y2="218.65" stroke="#3a3a3a" stroke-width="1"/>
<text transform="translate(280.60,219.95) rotate(-90) scale(0.87,1)" font-size="7.7" text-anchor="middle" fill="#1a1a1a">-100</text>
<line x1="285.40" y1="243.28" x2="287.60" y2="243.28" stroke="#3a3a3a" stroke-width="1"/>
<text transform="translate(280.60,244.58) rotate(-90) scale(0.87,1)" font-size="7.7" text-anchor="middle" fill="#1a1a1a">-150</text>
<line x1="285.40" y1="267.90" x2="287.60" y2="267.90" stroke="#3a3a3a" stroke-width="1"/>
<text transform="translate(280.60,269.20) rotate(-90) scale(0.87,1)" font-size="7.7" text-anchor="middle" fill="#1a1a1a">-200</text>
<text x="30.50" y="325.10" font-size="7.6" text-anchor="middle" fill="#1a1a1a">(c)</text>
<text x="251.30" y="326.20" font-size="9" text-anchor="middle" fill="#1a1a1a">RVG NE</text>
<text transform="translate(7.80,383.30) rotate(-90)" x="0" y="0" font-size="9" text-anchor="middle" fill="#1a1a1a">Depth</text>
<text x="111.80" y="466.20" font-size="9.2" text-anchor="middle" fill="#1a1a1a">Log((Ep+Ino)/(St+Als+Tur))</text>
<line x1="138.80" y1="330.90" x2="138.80" y2="444.10" stroke="#6a6a6a" stroke-width="1.5"/>
<circle cx="36.10" cy="336.50" r="2.1" fill="#e06464"/>
<circle cx="102.10" cy="335.10" r="2.1" fill="#e06464"/>
<circle cx="105.40" cy="337.70" r="2.1" fill="#e06464"/>
<circle cx="145.30" cy="340.60" r="2.1" fill="#e06464"/>
<circle cx="158.20" cy="340.00" r="2.1" fill="#e06464"/>
<path d="M86.90 341.85L89.05 344.00L86.90 346.15L84.75 344.00Z" stroke="#383838" stroke-width="1.15" fill="#8c8c8c"/>
<path d="M101.10 343.95L103.25 346.10L101.10 348.25L98.95 346.10Z" stroke="#383838" stroke-width="1.15" fill="#8c8c8c"/>
<path d="M121.40 347.45L123.55 349.60L121.40 351.75L119.25 349.60Z" stroke="#383838" stroke-width="1.15" fill="#8c8c8c"/>
<path d="M138.70 348.75L140.85 350.90L138.70 353.05L136.55 350.90Z" stroke="#383838" stroke-width="1.15" fill="#8c8c8c"/>
<path d="M174.70 356.15L176.85 358.30L174.70 360.45L172.55 358.30Z" stroke="#383838" stroke-width="1.15" fill="#8c8c8c"/>
<path d="M175.60 359.15L177.75 361.30L175.60 363.45L173.45 361.30Z" stroke="#383838" stroke-width="1.15" fill="#8c8c8c"/>
<path d="M176.60 362.25L178.75 364.40L176.60 366.55L174.45 364.40Z" stroke="#383838" stroke-width="1.15" fill="#8c8c8c"/>
<path d="M185.60 353.25L187.75 355.40L185.60 357.55L183.45 355.40Z" stroke="#383838" stroke-width="1.15" fill="#8c8c8c"/>
<path d="M160.20 364.85L162.35 367.00L160.20 369.15L158.05 367.00Z" stroke="#383838" stroke-width="1.15" fill="#8c8c8c"/>
<path d="M172.40 370.15L174.55 372.30L172.40 374.45L170.25 372.30Z" stroke="#383838" stroke-width="1.15" fill="#8c8c8c"/>
<path d="M169.20 374.15L171.35 376.30L169.20 378.45L167.05 376.30Z" stroke="#383838" stroke-width="1.15" fill="#8c8c8c"/>
<path d="M200.70 379.45L202.85 381.60L200.70 383.75L198.55 381.60Z" stroke="#383838" stroke-width="1.15" fill="#8c8c8c"/>
<path d="M206.80 383.75L208.95 385.90L206.80 388.05L204.65 385.90Z" stroke="#383838" stroke-width="1.15" fill="#8c8c8c"/>
<path d="M159.30 391.55L161.45 393.70L159.30 395.85L157.15 393.70Z" stroke="#383838" stroke-width="1.15" fill="#8c8c8c"/>
<path d="M182.20 389.05L184.35 391.20L182.20 393.35L180.05 391.20Z" stroke="#383838" stroke-width="1.15" fill="#8c8c8c"/>
<path d="M157.50 397.15L159.65 399.30L157.50 401.45L155.35 399.30Z" stroke="#383838" stroke-width="1.15" fill="#8c8c8c"/>
<path d="M144.20 402.85L146.35 405.00L144.20 407.15L142.05 405.00Z" stroke="#383838" stroke-width="1.15" fill="#8c8c8c"/>
<path d="M180.40 408.05L182.55 410.20L180.40 412.35L178.25 410.20Z" stroke="#383838" stroke-width="1.15" fill="#8c8c8c"/>
<path d="M188.00 413.15L190.15 415.30L188.00 417.45L185.85 415.30Z" stroke="#383838" stroke-width="1.15" fill="#8c8c8c"/>
<path d="M153.00 421.75L155.15 423.90L153.00 426.05L150.85 423.90Z" stroke="#383838" stroke-width="1.15" fill="#8c8c8c"/>
<path d="M169.00 425.85L171.15 428.00L169.00 430.15L166.85 428.00Z" stroke="#383838" stroke-width="1.15" fill="#8c8c8c"/>
<path d="M128.60 431.25L130.75 433.40L128.60 435.55L126.45 433.40Z" stroke="#383838" stroke-width="1.15" fill="#8c8c8c"/>
<path d="M105.40 438.25L107.55 440.40L105.40 442.55L103.25 440.40Z" stroke="#383838" stroke-width="1.15" fill="#8c8c8c"/>
<path d="M142.70 358.40L145.10 361.99L140.30 361.99ZM142.70 363.20L145.10 359.61L140.30 359.61Z" stroke="#66dd44" stroke-width="1.0" fill="none"/>
<path d="M170.40 355.90L172.80 359.49L168.00 359.49ZM170.40 360.70L172.80 357.11L168.00 357.11Z" stroke="#66dd44" stroke-width="1.0" fill="none"/>
<path d="M204.20 360.60L206.60 364.19L201.80 364.19ZM204.20 365.40L206.60 361.81L201.80 361.81Z" stroke="#66dd44" stroke-width="1.0" fill="none"/>
<rect x="29.10" y="330.90" width="184.30" height="113.20" fill="none" stroke="#3a3a3a" stroke-width="1.3"/>
<line x1="39.12" y1="444.10" x2="39.12" y2="445.90" stroke="#3a3a3a" stroke-width="1"/>
<text transform="translate(38.22,454.60) scale(0.87,1)" font-size="7.7" text-anchor="middle" fill="#1a1a1a">-0.8</text>
<line x1="64.04" y1="444.10" x2="64.04" y2="445.90" stroke="#3a3a3a" stroke-width="1"/>
<text transform="translate(63.14,454.60) scale(0.87,1)" font-size="7.7" text-anchor="middle" fill="#1a1a1a">-0.6</text>
<line x1="88.96" y1="444.10" x2="88.96" y2="445.90" stroke="#3a3a3a" stroke-width="1"/>
<text transform="translate(88.06,454.60) scale(0.87,1)" font-size="7.7" text-anchor="middle" fill="#1a1a1a">-0.4</text>
<line x1="113.88" y1="444.10" x2="113.88" y2="445.90" stroke="#3a3a3a" stroke-width="1"/>
<text transform="translate(112.98,454.60) scale(0.87,1)" font-size="7.7" text-anchor="middle" fill="#1a1a1a">-0.2</text>
<line x1="138.80" y1="444.10" x2="138.80" y2="445.90" stroke="#3a3a3a" stroke-width="1"/>
<text transform="translate(138.40,454.60) scale(0.87,1)" font-size="7.7" text-anchor="middle" fill="#1a1a1a">0.0</text>
<line x1="163.72" y1="444.10" x2="163.72" y2="445.90" stroke="#3a3a3a" stroke-width="1"/>
<text transform="translate(163.32,454.60) scale(0.87,1)" font-size="7.7" text-anchor="middle" fill="#1a1a1a">0.2</text>
<line x1="188.64" y1="444.10" x2="188.64" y2="445.90" stroke="#3a3a3a" stroke-width="1"/>
<text transform="translate(188.24,454.60) scale(0.87,1)" font-size="7.7" text-anchor="middle" fill="#1a1a1a">0.4</text>
<line x1="26.90" y1="353.40" x2="29.10" y2="353.40" stroke="#3a3a3a" stroke-width="1"/>
<text transform="translate(21.90,354.70) rotate(-90) scale(0.87,1)" font-size="7.7" text-anchor="middle" fill="#1a1a1a">-50</text>
<line x1="26.90" y1="387.40" x2="29.10" y2="387.40" stroke="#3a3a3a" stroke-width="1"/>
<text transform="translate(21.90,388.70) rotate(-90) scale(0.87,1)" font-size="7.7" text-anchor="middle" fill="#1a1a1a">-100</text>
<line x1="26.90" y1="421.40" x2="29.10" y2="421.40" stroke="#3a3a3a" stroke-width="1"/>
<text transform="translate(21.90,422.70) rotate(-90) scale(0.87,1)" font-size="7.7" text-anchor="middle" fill="#1a1a1a">-150</text>
<text transform="translate(267.10,383.30) rotate(-90)" x="0" y="0" font-size="9" text-anchor="middle" fill="#1a1a1a">Depth</text>
<text x="381.80" y="466.20" font-size="9.1" text-anchor="middle" fill="#1a1a1a">Log(R/Grt)</text>
<line x1="290.70" y1="331.00" x2="290.70" y2="444.10" stroke="#3a3a3a" stroke-width="1.1"/>
<circle cx="294.90" cy="340.60" r="2.1" fill="#e06464"/>
<circle cx="318.60" cy="338.90" r="2.1" fill="#e06464"/>
<circle cx="325.70" cy="335.20" r="2.1" fill="#e06464"/>
<circle cx="402.50" cy="337.70" r="2.1" fill="#e06464"/>
<circle cx="465.70" cy="336.40" r="2.1" fill="#e06464"/>
<path d="M315.50 356.75L317.65 358.90L315.50 361.05L313.35 358.90Z" stroke="#383838" stroke-width="1.15" fill="#8c8c8c"/>
<path d="M320.80 362.85L322.95 365.00L320.80 367.15L318.65 365.00Z" stroke="#383838" stroke-width="1.15" fill="#8c8c8c"/>
<path d="M325.00 364.95L327.15 367.10L325.00 369.25L322.85 367.10Z" stroke="#383838" stroke-width="1.15" fill="#8c8c8c"/>
<path d="M329.60 359.25L331.75 361.40L329.60 363.55L327.45 361.40Z" stroke="#383838" stroke-width="1.15" fill="#8c8c8c"/>
<path d="M338.30 370.05L340.45 372.20L338.30 374.35L336.15 372.20Z" stroke="#383838" stroke-width="1.15" fill="#8c8c8c"/>
<path d="M338.30 374.35L340.45 376.50L338.30 378.65L336.15 376.50Z" stroke="#383838" stroke-width="1.15" fill="#8c8c8c"/>
<path d="M357.60 353.15L359.75 355.30L357.60 357.45L355.45 355.30Z" stroke="#383838" stroke-width="1.15" fill="#8c8c8c"/>
<path d="M364.30 348.55L366.45 350.70L364.30 352.85L362.15 350.70Z" stroke="#383838" stroke-width="1.15" fill="#8c8c8c"/>
<path d="M392.90 341.75L395.05 343.90L392.90 346.05L390.75 343.90Z" stroke="#383838" stroke-width="1.15" fill="#8c8c8c"/>
<path d="M405.90 343.35L408.05 345.50L405.90 347.65L403.75 345.50Z" stroke="#383838" stroke-width="1.15" fill="#8c8c8c"/>
<path d="M408.50 347.25L410.65 349.40L408.50 351.55L406.35 349.40Z" stroke="#383838" stroke-width="1.15" fill="#8c8c8c"/>
<path d="M325.50 379.45L327.65 381.60L325.50 383.75L323.35 381.60Z" stroke="#383838" stroke-width="1.15" fill="#8c8c8c"/>
<path d="M327.00 383.75L329.15 385.90L327.00 388.05L324.85 385.90Z" stroke="#383838" stroke-width="1.15" fill="#8c8c8c"/>
<path d="M325.50 388.85L327.65 391.00L325.50 393.15L323.35 391.00Z" stroke="#383838" stroke-width="1.15" fill="#8c8c8c"/>
<path d="M328.20 391.45L330.35 393.60L328.20 395.75L326.05 393.60Z" stroke="#383838" stroke-width="1.15" fill="#8c8c8c"/>
<path d="M321.60 396.95L323.75 399.10L321.60 401.25L319.45 399.10Z" stroke="#383838" stroke-width="1.15" fill="#8c8c8c"/>
<path d="M314.80 402.05L316.95 404.20L314.80 406.35L312.65 404.20Z" stroke="#383838" stroke-width="1.15" fill="#8c8c8c"/>
<path d="M332.00 407.65L334.15 409.80L332.00 411.95L329.85 409.80Z" stroke="#383838" stroke-width="1.15" fill="#8c8c8c"/>
<path d="M348.00 413.55L350.15 415.70L348.00 417.85L345.85 415.70Z" stroke="#383838" stroke-width="1.15" fill="#8c8c8c"/>
<path d="M339.10 421.65L341.25 423.80L339.10 425.95L336.95 423.80Z" stroke="#383838" stroke-width="1.15" fill="#8c8c8c"/>
<path d="M360.70 425.65L362.85 427.80L360.70 429.95L358.55 427.80Z" stroke="#383838" stroke-width="1.15" fill="#8c8c8c"/>
<path d="M361.20 430.75L363.35 432.90L361.20 435.05L359.05 432.90Z" stroke="#383838" stroke-width="1.15" fill="#8c8c8c"/>
<path d="M382.70 437.75L384.85 439.90L382.70 442.05L380.55 439.90Z" stroke="#383838" stroke-width="1.15" fill="#8c8c8c"/>
<path d="M300.00 360.70L302.40 364.29L297.60 364.29ZM300.00 365.50L302.40 361.91L297.60 361.91Z" stroke="#66dd44" stroke-width="1.0" fill="none"/>
<path d="M352.20 355.90L354.60 359.49L349.80 359.49ZM352.20 360.70L354.60 357.11L349.80 357.11Z" stroke="#66dd44" stroke-width="1.0" fill="none"/>
<path d="M356.30 358.40L358.70 361.99L353.90 361.99ZM356.30 363.20L358.70 359.61L353.90 359.61Z" stroke="#66dd44" stroke-width="1.0" fill="none"/>
<rect x="288.30" y="331.00" width="184.00" height="113.10" fill="none" stroke="#3a3a3a" stroke-width="1.3"/>
<line x1="290.70" y1="444.10" x2="290.70" y2="445.90" stroke="#3a3a3a" stroke-width="1"/>
<text transform="translate(290.30,454.60) scale(0.87,1)" font-size="7.7" text-anchor="middle" fill="#1a1a1a">0.0</text>
<line x1="339.90" y1="444.10" x2="339.90" y2="445.90" stroke="#3a3a3a" stroke-width="1"/>
<text transform="translate(339.50,454.60) scale(0.87,1)" font-size="7.7" text-anchor="middle" fill="#1a1a1a">0.5</text>
<line x1="389.10" y1="444.10" x2="389.10" y2="445.90" stroke="#3a3a3a" stroke-width="1"/>
<text transform="translate(388.70,454.60) scale(0.87,1)" font-size="7.7" text-anchor="middle" fill="#1a1a1a">1.0</text>
<line x1="438.30" y1="444.10" x2="438.30" y2="445.90" stroke="#3a3a3a" stroke-width="1"/>
<text transform="translate(437.90,454.60) scale(0.87,1)" font-size="7.7" text-anchor="middle" fill="#1a1a1a">1.5</text>
<line x1="286.10" y1="353.40" x2="288.30" y2="353.40" stroke="#3a3a3a" stroke-width="1"/>
<text transform="translate(281.20,354.70) rotate(-90) scale(0.87,1)" font-size="7.7" text-anchor="middle" fill="#1a1a1a">-50</text>
<line x1="286.10" y1="387.40" x2="288.30" y2="387.40" stroke="#3a3a3a" stroke-width="1"/>
<text transform="translate(281.20,388.70) rotate(-90) scale(0.87,1)" font-size="7.7" text-anchor="middle" fill="#1a1a1a">-100</text>
<line x1="286.10" y1="421.40" x2="288.30" y2="421.40" stroke="#3a3a3a" stroke-width="1"/>
<text transform="translate(281.20,422.70) rotate(-90) scale(0.87,1)" font-size="7.7" text-anchor="middle" fill="#1a1a1a">-150</text>
</svg></body></html>
